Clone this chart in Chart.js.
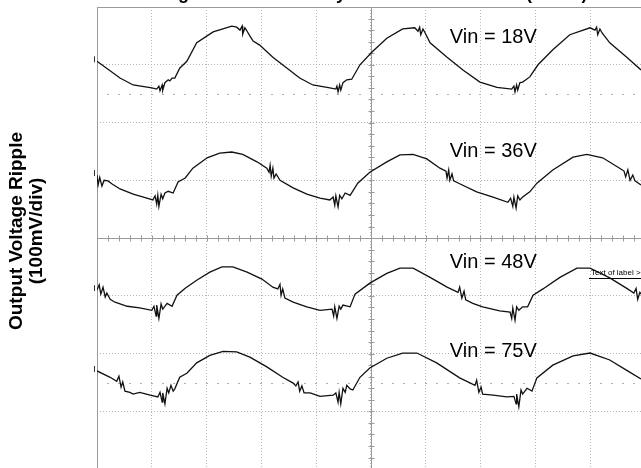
<!DOCTYPE html>
<html>
<head>
<meta charset="utf-8">
<script src="https://cdn.jsdelivr.net/npm/chart.js@4.4.1/dist/chart.umd.min.js"></script>
<style>
  html, body { margin: 0; padding: 0; background: #fff; }
  #wrap { width: 641px; height: 468px; position: relative; }
</style>
</head>
<body>
<div id="wrap"><canvas id="c" width="641" height="468"></canvas></div>
<script>
// Oscilloscope traces, x in time divisions, y in vertical divisions (100 mV/div)
const traceNames = ['Vin = 18V', 'Vin = 36V', 'Vin = 48V', 'Vin = 75V'];

const t18 = [0,0.42,0.66,1.00,1.09,1.13,1.15,1.19,1.20,1.24,1.30,1.33,1.37,1.42,1.51,1.64,1.82,2.12,2.46,2.55,2.61,2.65,2.66,2.70,2.74,2.79,2.85,2.97,3.21,3.47,3.70,3.94,4.25,4.36,4.38,4.40,4.43,4.45,4.49,4.56,4.65,4.80,5.02,5.29,5.58,5.80,5.86,5.89,5.91,5.95,5.99,6.08,6.39,6.68,6.99,7.30,7.57,7.61,7.63,7.66,7.68,7.72,7.77,7.90,8.05,8.32,8.63,9.00,9.09,9.12,9.14,9.18,9.22,9.36,9.67,9.93,10.0];
const v18 = [3.06,2.77,2.65,2.60,2.58,2.63,2.55,2.65,2.56,2.69,2.74,2.72,2.77,2.77,2.94,3.06,3.38,3.57,3.67,3.65,3.60,3.67,3.53,3.64,3.58,3.50,3.41,3.34,3.13,2.94,2.77,2.65,2.60,2.58,2.63,2.53,2.65,2.56,2.69,2.74,2.75,3.00,3.22,3.46,3.62,3.64,3.58,3.65,3.52,3.62,3.55,3.38,3.13,2.91,2.70,2.61,2.58,2.63,2.53,2.65,2.56,2.69,2.70,2.79,3.00,3.26,3.52,3.64,3.60,3.65,3.52,3.62,3.55,3.38,3.13,2.91,2.84];

const t36 = [0,0.02,0.05,0.09,0.13,0.20,0.27,0.42,0.66,0.91,1.02,1.06,1.09,1.11,1.13,1.17,1.20,1.24,1.30,1.39,1.48,1.61,1.75,2.01,2.24,2.46,2.66,2.92,3.10,3.14,3.16,3.18,3.21,3.23,3.27,3.34,3.58,3.83,4.07,4.25,4.31,4.34,4.36,4.40,4.43,4.47,4.53,4.62,4.76,4.98,5.29,5.53,5.77,6.02,6.26,6.37,6.39,6.42,6.44,6.48,6.51,6.62,6.93,7.23,7.50,7.55,7.59,7.61,7.65,7.68,7.72,7.77,7.90,8.03,8.32,8.69,8.94,9.23,9.54,9.62,9.65,9.69,9.73,9.78,9.82,9.93];
const v36 = [1.09,0.92,1.05,0.90,1.00,0.99,0.94,0.85,0.76,0.69,0.66,0.73,0.59,0.74,0.55,0.76,0.68,0.78,0.81,0.78,0.97,1.04,1.21,1.39,1.47,1.49,1.45,1.32,1.21,1.14,1.26,1.07,1.21,1.04,1.11,1.00,0.87,0.76,0.69,0.66,0.71,0.57,0.73,0.54,0.74,0.68,0.78,0.74,0.95,1.14,1.32,1.44,1.45,1.37,1.21,1.16,1.04,1.18,1.00,1.11,0.99,0.94,0.80,0.71,0.62,0.69,0.55,0.71,0.52,0.73,0.66,0.71,0.80,0.95,1.18,1.40,1.45,1.39,1.21,1.16,1.06,1.18,1.00,1.09,0.99,0.92];

const t48 = [0,0.04,0.07,0.11,0.15,0.18,0.24,0.33,0.55,0.78,1.00,1.04,1.08,1.09,1.13,1.17,1.20,1.28,1.37,1.46,1.61,1.82,2.06,2.28,2.48,2.74,3.01,3.21,3.30,3.34,3.36,3.39,3.43,3.58,3.83,4.07,4.29,4.32,4.34,4.38,4.42,4.45,4.49,4.62,4.71,4.98,5.29,5.53,5.77,6.08,6.39,6.59,6.62,6.66,6.70,6.73,6.86,7.04,7.35,7.54,7.57,7.59,7.63,7.66,7.70,7.77,7.86,7.96,8.14,8.45,8.76,9.00,9.36,9.67,9.80,9.84,9.87,9.91,10.0];
const v48 = [-0.90,-0.81,-0.97,-0.85,-1.02,-0.95,-1.06,-1.11,-1.18,-1.21,-1.25,-1.18,-1.35,-1.16,-1.39,-1.14,-1.23,-1.13,-1.18,-0.99,-0.87,-0.73,-0.59,-0.50,-0.50,-0.59,-0.71,-0.85,-0.88,-0.80,-0.99,-0.88,-1.04,-1.11,-1.19,-1.25,-1.23,-1.35,-1.19,-1.39,-1.18,-1.23,-1.16,-1.19,-0.97,-0.78,-0.61,-0.52,-0.52,-0.68,-0.85,-0.94,-0.85,-1.04,-0.92,-1.07,-1.13,-1.19,-1.26,-1.28,-1.39,-1.21,-1.42,-1.19,-1.25,-1.19,-1.19,-0.99,-0.88,-0.68,-0.52,-0.52,-0.69,-0.87,-0.95,-0.87,-1.06,-0.94,-1.04];

const t75 = [0,0.24,0.36,0.40,0.44,0.47,0.51,0.60,0.66,0.78,0.97,1.11,1.15,1.19,1.20,1.24,1.28,1.31,1.35,1.39,1.42,1.51,1.64,1.82,2.06,2.30,2.55,2.79,3.10,3.39,3.58,3.63,3.67,3.70,3.74,3.78,3.89,4.07,4.31,4.36,4.40,4.42,4.45,4.49,4.53,4.56,4.62,4.67,4.80,4.98,5.29,5.58,5.84,6.20,6.62,6.90,6.93,6.97,7.01,7.04,7.23,7.48,7.61,7.65,7.66,7.70,7.74,7.77,7.85,7.94,8.03,8.32,8.69,9.00,9.36,9.67,9.93,10.0];
const v75 = [-2.30,-2.41,-2.48,-2.39,-2.58,-2.49,-2.65,-2.67,-2.70,-2.67,-2.72,-2.75,-2.67,-2.84,-2.68,-2.87,-2.60,-2.68,-2.55,-2.65,-2.61,-2.41,-2.34,-2.16,-2.03,-1.96,-1.97,-2.06,-2.23,-2.41,-2.51,-2.56,-2.49,-2.65,-2.56,-2.68,-2.68,-2.74,-2.72,-2.68,-2.84,-2.67,-2.87,-2.60,-2.67,-2.55,-2.61,-2.63,-2.41,-2.25,-2.08,-1.99,-1.99,-2.16,-2.42,-2.55,-2.46,-2.67,-2.58,-2.70,-2.72,-2.75,-2.74,-2.87,-2.70,-2.92,-2.63,-2.70,-2.60,-2.65,-2.42,-2.20,-2.04,-1.99,-2.11,-2.29,-2.44,-2.49];

const traceTimes = [t18, t36, t48, t75];
const traceValues = [v18, v36, v48, v75];

const yAxisTitle = ['Output Voltage Ripple', '(100mV/div)'];
const chartTitle = 'Voltage Traces at Steady State with Full Load (Io=1A)';
const markerLabel = 'Text of label >>';

const datasets = traceTimes.map((ts, i) => ({
  label: traceNames[i],
  data: ts.map((t, k) => ({ x: t, y: traceValues[i][k] })),
  borderColor: '#111',
  borderWidth: 1.3,
  pointRadius: 0,
  tension: 0,
  fill: false
}));

const scopeDecor = {
  id: 'scopeDecor',
  beforeDatasetsDraw(chart) {
    const { ctx, chartArea: a, scales: { x, y } } = chart;
    ctx.save();
    ctx.strokeStyle = '#9a9a9a';
    ctx.lineWidth = 1;
    ctx.setLineDash([]);
    ctx.beginPath();
    ctx.moveTo(a.left + 0.5, a.bottom); ctx.lineTo(a.left + 0.5, y.getPixelForValue(4) + 0.5);
    ctx.lineTo(a.right, y.getPixelForValue(4) + 0.5);
    ctx.stroke();
    const cx = Math.round(x.getPixelForValue(5)) + 0.5;
    const cy = Math.round(y.getPixelForValue(0)) + 0.5;
    ctx.beginPath();
    ctx.moveTo(cx, a.top); ctx.lineTo(cx, a.bottom);
    ctx.moveTo(a.left, cy); ctx.lineTo(a.right, cy);
    for (let v = 0; v <= 10.001; v += 0.2) {
      const px = Math.round(x.getPixelForValue(v)) + 0.5;
      ctx.moveTo(px, cy - 3); ctx.lineTo(px, cy + 3);
    }
    for (let v = -4; v <= 4.001; v += 0.2) {
      const py = Math.round(y.getPixelForValue(v)) + 0.5;
      ctx.moveTo(cx - 3, py); ctx.lineTo(cx + 3, py);
    }
    ctx.stroke();
    ctx.strokeStyle = '#b0b0b0';
    ctx.beginPath();
    [2.5, -2.5].forEach(v => {
      const py = Math.round(y.getPixelForValue(v)) + 0.5;
      for (let t = 0.2; t <= 10.001; t += 0.2) {
        const px = Math.round(x.getPixelForValue(t));
        ctx.moveTo(px - 1, py); ctx.lineTo(px + 1, py);
      }
    });
    ctx.stroke();
    ctx.restore();
  },
  afterDatasetsDraw(chart) {
    const { ctx, chartArea: a, scales: { x, y } } = chart;
    ctx.save();
    ctx.fillStyle = '#000';
    ctx.font = '20px "Liberation Sans", Arial, sans-serif';
    ctx.textBaseline = 'alphabetic';
    ctx.textAlign = 'left';
    const labelY = [3.38, 1.40, -0.52, -2.06];
    traceNames.forEach((n, i) => {
      ctx.fillText(n, x.getPixelForValue(6.44), y.getPixelForValue(labelY[i]));
    });
    ctx.font = '8px "Liberation Sans", Arial, sans-serif';
    ctx.fillText(markerLabel, x.getPixelForValue(9.0) + 1, y.getPixelForValue(-0.64));
    ctx.strokeStyle = '#000';
    ctx.lineWidth = 1;
    ctx.beginPath();
    const ly = Math.round(y.getPixelForValue(-0.69)) + 0.5;
    ctx.moveTo(x.getPixelForValue(8.98), ly); ctx.lineTo(a.right, ly);
    ctx.stroke();
    ctx.strokeStyle = '#333';
    ctx.beginPath();
    traceValues.forEach(vs => {
      const py = y.getPixelForValue(vs[0]);
      ctx.moveTo(a.left - 2.5, py - 5); ctx.lineTo(a.left - 2.5, py + 1);
    });
    ctx.stroke();
    ctx.restore();

    // y axis title (rotated, two lines)
    ctx.save();
    ctx.fillStyle = '#000';
    ctx.font = 'bold 19px "Liberation Sans", Arial, sans-serif';
    ctx.textAlign = 'center';
    ctx.textBaseline = 'middle';
    ctx.translate(27, 231);
    ctx.rotate(-Math.PI / 2);
    ctx.fillText(yAxisTitle[0], 0, -10);
    ctx.fillText(yAxisTitle[1], 0, 10);
    ctx.restore();

    // clipped chart title (only descenders visible)
    ctx.save();
    ctx.font = 'bold 18px "Liberation Sans", Arial, sans-serif';
    ctx.textAlign = 'left';
    ctx.textBaseline = 'alphabetic';
    ctx.fillStyle = '#000';
    const pre = ctx.measureText('Volta').width;
    ctx.fillText(chartTitle, 178 - pre, -1);
    ctx.restore();
  }
};

new Chart(document.getElementById('c'), {
  type: 'line',
  data: { datasets },
  options: {
    responsive: false,
    animation: false,
    layout: { padding: { left: 97, top: 7, right: 0, bottom: 0 } },
    plugins: { legend: { display: false }, tooltip: { enabled: false }, title: { display: false } },
    scales: {
      x: {
        type: 'linear', min: 0, max: 9.93,
        ticks: { display: false, stepSize: 1, includeBounds: false },
        grid: { color: '#b5b5b5', lineWidth: 1, drawTicks: false },
        border: { display: false, dash: [1, 2] }
      },
      y: {
        type: 'linear', min: -3.98, max: 4,
        ticks: { display: false, stepSize: 1, includeBounds: false },
        grid: { color: '#b5b5b5', lineWidth: 1, drawTicks: false },
        border: { display: false, dash: [1, 2] }
      }
    }
  },
  plugins: [scopeDecor]
});
</script>
</body>
</html>
